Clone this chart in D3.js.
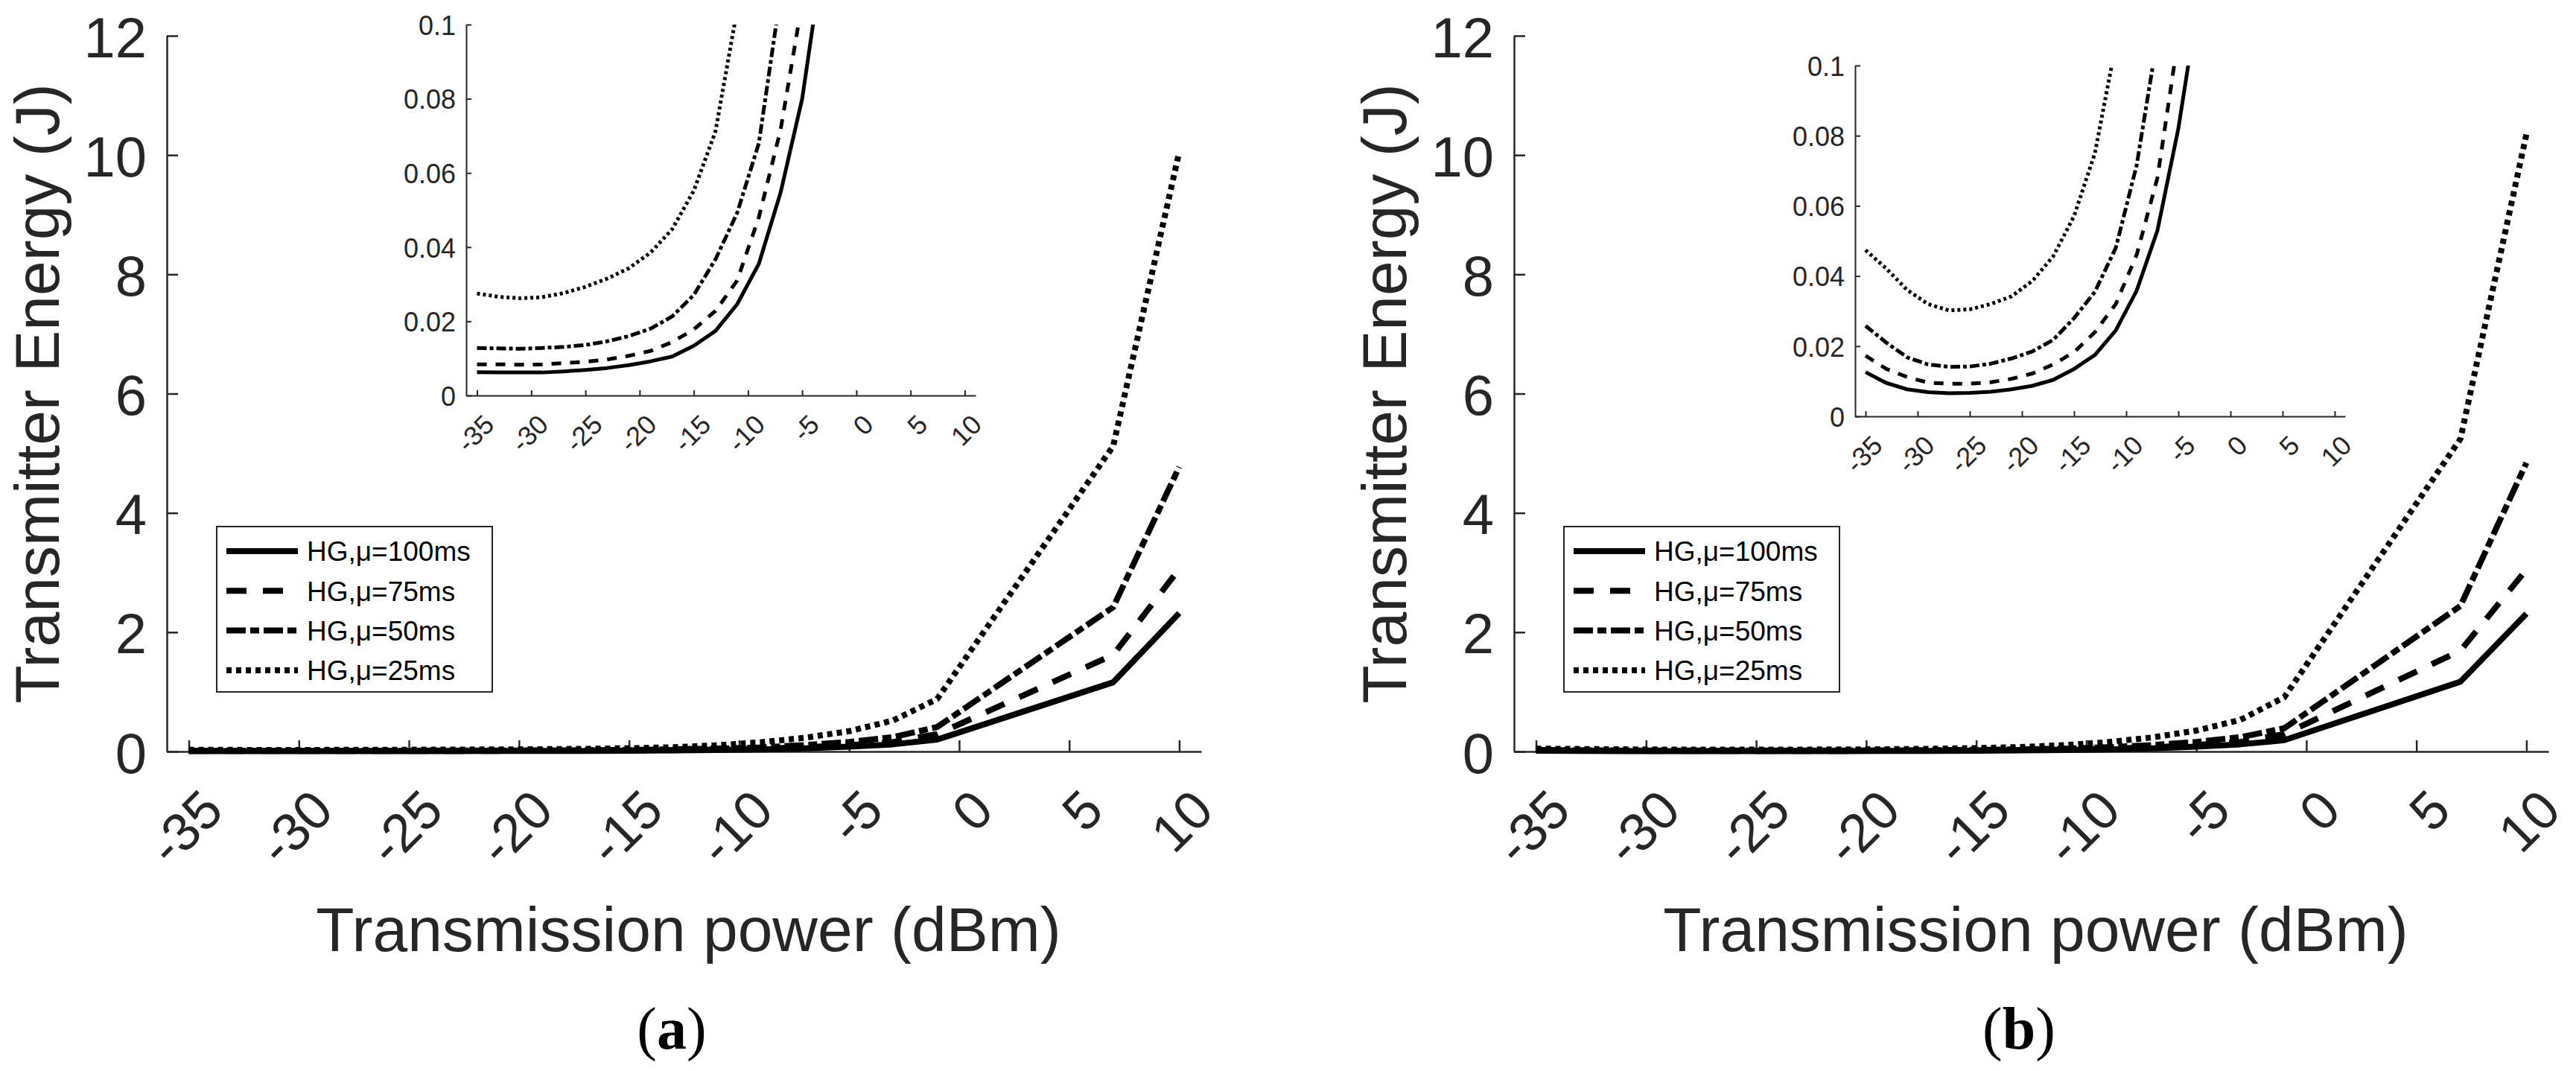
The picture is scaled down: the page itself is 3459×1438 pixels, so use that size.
<!DOCTYPE html>
<html>
<head>
<meta charset="utf-8">
<script src="https://cdn.jsdelivr.net/npm/d3@7"></script>
<style>
  body { margin: 0; background: #fff; }
</style>
</head>
<body>
<svg id="chart" width="3459" height="1438"></svg>
<script>
// transmission power levels (dBm) where the curves were sampled
const powerDbm = [-35, -33, -31, -29, -27, -25, -23, -21, -19, -17, -15, -13, -11, -9, -7, -5, -3, -1, 7, 10];
const xTickValues = [-35, -30, -25, -20, -15, -10, -5, 0, 5, 10];
const mainYTicks = [0, 2, 4, 6, 8, 10, 12];
const insetYTicks = [0, 0.02, 0.04, 0.06, 0.08, 0.1];
const seriesNames = ['HG,μ=100ms', 'HG,μ=75ms', 'HG,μ=50ms', 'HG,μ=25ms'];

// panel (a) transmitter energy (J)
const energyA100 = [0.0063, 0.0062, 0.0062, 0.0062, 0.0065, 0.0069, 0.0074, 0.0082, 0.0092, 0.0105, 0.0134, 0.0174, 0.0246, 0.0355, 0.0546, 0.080, 0.12, 0.20, 1.16, 2.32];
const energyA75 = [0.0084, 0.0084, 0.0083, 0.0084, 0.0087, 0.0091, 0.0097, 0.0107, 0.0120, 0.0144, 0.0178, 0.0228, 0.0310, 0.0480, 0.0715, 0.106, 0.16, 0.29, 1.62, 3.06];
const energyA50 = [0.0128, 0.0127, 0.0126, 0.0128, 0.0131, 0.0136, 0.0146, 0.0160, 0.0180, 0.0213, 0.0271, 0.0367, 0.0492, 0.0680, 0.108, 0.16, 0.24, 0.41, 2.42, 4.77];
const energyA25 = [0.0275, 0.0266, 0.0262, 0.0265, 0.0276, 0.0293, 0.0315, 0.0343, 0.0385, 0.0448, 0.0552, 0.0712, 0.104, 0.155, 0.23, 0.34, 0.52, 0.88, 5.12, 10.05];

// panel (b) transmitter energy (J)
const energyB100 = [0.0126, 0.0095, 0.0077, 0.0069, 0.0066, 0.0067, 0.0070, 0.0077, 0.0087, 0.0104, 0.0135, 0.0175, 0.0245, 0.0358, 0.0530, 0.082, 0.12, 0.19, 1.17, 2.31];
const energyB75 = [0.0173, 0.0135, 0.0112, 0.0096, 0.0093, 0.0093, 0.0097, 0.0107, 0.0122, 0.0148, 0.0183, 0.0240, 0.0320, 0.0460, 0.0680, 0.108, 0.16, 0.29, 1.69, 3.05];
const energyB50 = [0.0258, 0.0210, 0.0168, 0.0148, 0.0141, 0.0142, 0.0150, 0.0165, 0.0185, 0.0218, 0.0280, 0.0355, 0.0480, 0.0715, 0.108, 0.16, 0.24, 0.39, 2.44, 4.84];
const energyB25 = [0.0474, 0.0421, 0.0360, 0.0320, 0.0302, 0.0305, 0.0320, 0.0342, 0.0386, 0.0456, 0.0571, 0.0750, 0.106, 0.158, 0.235, 0.35, 0.53, 0.91, 5.24, 10.35];

var FONT = '"Liberation Sans", Arial, Helvetica, sans-serif';
var AXIS_COLOR = '#262626';

// dash patterns: solid, dashed, dash-dot, dotted
var mainDash = [null, '27,22', '26,6,12,6', '7,6'];
var insetDash = [null, '13,12', '13,4,5,4', '4,4'];

var svg = d3.select('#chart');

function styleAxis(g, fontSize, width) {
  g.attr('font-family', FONT).attr('font-size', fontSize);
  g.selectAll('path, line').attr('stroke', AXIS_COLOR).attr('stroke-width', width);
  g.selectAll('text').attr('fill', AXIS_COLOR);
}

function drawAxes(x, y, opts) {
  // left axis, ticks pointing inward
  var gy = svg
    .append('g')
    .attr('transform', 'translate(' + x.range()[0] + ',0)')
    .call(
      d3.axisLeft(y)
        .tickValues(opts.yTicks)
        .tickSize(-opts.tickLen)
        .tickSizeOuter(0)
        .tickPadding(opts.yPad)
        .tickFormat(function (d) { return String(d); })
    );
  styleAxis(gy, opts.yFont, opts.axisWidth);
  gy.selectAll('text').attr('dy', '0.37em');

  // bottom axis with labels rotated 45 degrees
  var gx = svg
    .append('g')
    .attr('transform', 'translate(0,' + y.range()[0] + ')')
    .call(
      d3.axisBottom(x)
        .tickValues(xTickValues)
        .tickSize(-opts.tickLen)
        .tickSizeOuter(0)
        .tickFormat(function (d) { return String(d); })
    );
  styleAxis(gx, opts.xFont, opts.axisWidth);
  gx.selectAll('text')
    .attr('x', 0)
    .attr('y', 0)
    .attr('dy', null)
    .attr('text-anchor', 'end')
    .attr('transform', 'translate(' + 0.68 * opts.xFont + ',' + 1.15 * opts.xFont + ') rotate(-45)');
}

function drawPanel(p) {
  // main axes
  var x = d3.scaleLinear().domain([-36, 11]).range([p.left, p.left + 1389]);
  var y = d3.scaleLinear().domain([0, 12]).range([1009, 48]);

  drawAxes(x, y, { yTicks: mainYTicks, tickLen: 15, yPad: 27, yFont: 76, xFont: 72, axisWidth: 2.5 });

  var line = d3.line()
    .x(function (d, i) { return x(powerDbm[i]); })
    .y(function (d) { return y(d); });

  p.series.forEach(function (s, i) {
    svg.append('path')
      .datum(s)
      .attr('d', line)
      .attr('fill', 'none')
      .attr('stroke', '#000')
      .attr('stroke-width', 8)
      .attr('stroke-linejoin', 'round')
      .attr('stroke-dasharray', mainDash[i]);
  });

  // axis titles
  svg.append('text')
    .attr('x', (x.range()[0] + x.range()[1]) / 2 + 6)
    .attr('y', 1277)
    .attr('text-anchor', 'middle')
    .attr('font-family', FONT)
    .attr('font-size', 84)
    .attr('fill', AXIS_COLOR)
    .text('Transmission power (dBm)');

  svg.append('text')
    .attr('transform', 'translate(' + (p.left - 145) + ',' + (y.range()[0] + y.range()[1]) / 2 + ') rotate(-90)')
    .attr('text-anchor', 'middle')
    .attr('font-family', FONT)
    .attr('font-size', 84)
    .attr('fill', AXIS_COLOR)
    .text('Transmitter Energy (J)');

  // legend
  var lg = svg.append('g').attr('transform', 'translate(' + (p.left + 67) + ',707)');
  lg.append('rect')
    .attr('width', 370)
    .attr('height', 222)
    .attr('fill', '#fff')
    .attr('stroke', AXIS_COLOR)
    .attr('stroke-width', 2);
  seriesNames.forEach(function (name, i) {
    var ly = 33 + i * 53.3;
    lg.append('line')
      .attr('x1', 13).attr('x2', 109)
      .attr('y1', ly).attr('y2', ly)
      .attr('stroke', '#000')
      .attr('stroke-width', 8)
      .attr('stroke-dasharray', mainDash[i]);
    lg.append('text')
      .attr('x', 121)
      .attr('y', ly)
      .attr('dy', '0.36em')
      .attr('font-family', FONT)
      .attr('font-size', 37)
      .attr('fill', '#000')
      .text(name);
  });

  // inset zoom on the low-energy region
  var b = p.inset;
  var xi = d3.scaleLinear().domain([-36, 11]).range([b.left, b.right]);
  var yi = d3.scaleLinear().domain([0, 0.1]).range([b.bottom, b.top]);

  svg.append('rect')
    .attr('x', b.left).attr('y', b.top)
    .attr('width', b.right - b.left).attr('height', b.bottom - b.top)
    .attr('fill', '#fff');

  var clipId = 'clip-' + p.caption;
  svg.append('clipPath').attr('id', clipId)
    .append('rect')
    .attr('x', b.left).attr('y', b.top)
    .attr('width', b.right - b.left).attr('height', b.bottom - b.top);

  var insetLine = d3.line()
    .x(function (d, i) { return xi(powerDbm[i]); })
    .y(function (d) { return yi(d); });

  p.series.forEach(function (s, i) {
    svg.append('path')
      .datum(s)
      .attr('d', insetLine)
      .attr('clip-path', 'url(#' + clipId + ')')
      .attr('fill', 'none')
      .attr('stroke', '#000')
      .attr('stroke-width', 5)
      .attr('stroke-linejoin', 'round')
      .attr('stroke-dasharray', insetDash[i]);
  });

  drawAxes(xi, yi, { yTicks: insetYTicks, tickLen: 7, yPad: 14, yFont: 36, xFont: 36, axisWidth: 2 });

  // sub-figure caption
  var cap = svg.append('text')
    .attr('x', p.captionX)
    .attr('y', 1408)
    .attr('text-anchor', 'middle')
    .attr('font-family', '"Liberation Serif", "Times New Roman", serif')
    .attr('font-size', 80)
    .attr('fill', '#000');
  cap.append('tspan').text('(');
  cap.append('tspan').attr('font-weight', 'bold').text(p.caption);
  cap.append('tspan').text(')');
}

drawPanel({
  left: 224,
  inset: { left: 626, top: 33, right: 1310, bottom: 531 },
  series: [energyA100, energyA75, energyA50, energyA25],
  caption: 'a',
  captionX: 902
});

drawPanel({
  left: 2033,
  inset: { left: 2491, top: 88, right: 3149, bottom: 559 },
  series: [energyB100, energyB75, energyB50, energyB25],
  caption: 'b',
  captionX: 2711
});
</script>
</body>
</html>
